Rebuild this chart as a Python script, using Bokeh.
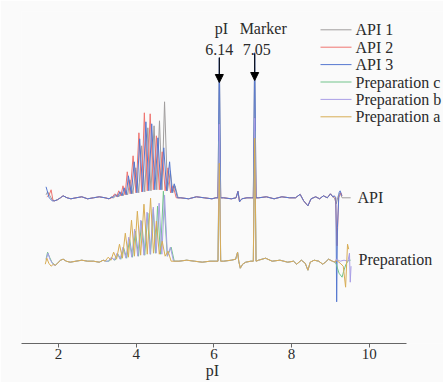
from bokeh.plotting import figure
from bokeh.models import Range1d, Label, Arrow, NormalHead, FixedTicker
from bokeh.embed import file_html
from bokeh.resources import INLINE

# ---------------- data ----------------
SERIES = ["API 1", "API 2", "API 3", "Preparation c", "Preparation b", "Preparation a"]
GROUP = ["API", "API", "API", "Preparation", "Preparation", "Preparation"]
COLORS = ["#a09d9d", "#ef7470", "#5578d0", "#72c48c", "#a99ee6", "#d8ad55"]
GROUP_OFFSET = {"API": 63.4, "Preparation": 0.0}

PI_PEAK = 6.14
MARKER_PEAK = 7.05
PI_PEAK_H = [140, 74, 140, 120, 137, 98]
MARKER_PEAK_H = [145, 80, 145, 130, 143, 123]

API_BASE_X = [1.90, 1.97, 2.05, 2.12, 2.22, 2.32, 2.45, 2.60, 2.75, 2.90, 3.05, 3.20, 3.30, 3.38,
              5.15, 5.35, 5.55, 5.75, 5.95, 6.05, 6.25, 6.45, 6.57, 6.62, 6.66, 6.72, 6.85, 6.97,
              7.15, 7.35, 7.55, 7.75, 7.95, 8.10, 8.22, 8.31, 8.42, 8.50, 8.62, 8.72, 8.82, 8.92,
              9.00, 9.06]
API_BASE_Y = [-3, -2, 0, 2, 0, -1, 0, 1, -1, 0, 1, 0, -1, 1,
              0, -1, 1, 0, -1, 0, 0, -1, 0, 6.5, -4, -1, 0, 0,
              0, 1, -1, 1, 0, 0, 3.5, -3, -8, -1, 1, -1, 2, 0,
              4, 1]

PREP_BASE_X = [1.92, 1.98, 2.05, 2.12, 2.20, 2.30, 2.45, 2.60, 2.75, 2.90, 3.05, 3.15, 3.22,
               5.10, 5.30, 5.50, 5.70, 5.90, 6.05, 6.25, 6.45, 6.56, 6.61, 6.64, 6.68, 6.74, 6.82,
               6.95, 7.15, 7.33, 7.50, 7.70, 7.90, 8.05, 8.13, 8.25, 8.35, 8.42, 8.48, 8.58, 8.70,
               8.80, 8.87, 8.95, 9.05, 9.12]
PREP_BASE_Y = [-4, -2, 1, 2, 0, -1, 0, 1, 0, 0, -1, 1, 0,
               0, 1, 0, -1, 0, 0, 0, 1, 2, 9, 0, -7, -3, -1,
               0, 1, 3, 0, 1, -1, 0, -3, 1, -2, -9, -1, 1, 0,
               -3, -1, 2, 0, -1]

START_X = [[1.68, 1.72, 1.78, 1.84],
           [1.70, 1.76, 1.81, 1.86],
           [1.68, 1.71, 1.76, 1.84],
           [1.68, 1.72, 1.77, 1.83, 1.88],
           [1.68, 1.73, 1.78, 1.84, 1.88],
           [1.66, 1.70, 1.75, 1.81, 1.87]]
START_Y = [[3, 6, 2, -2],
           [1, 3, 8, -3],
           [11, 7, 0, -3],
           [2, 9, 4, -1, -3],
           [1, 8, 2, -2, -4],
           [-3, 3, -2, -5, -3]]

CLUSTER_X = [[3.50, 3.61, 3.72, 3.84, 3.99, 4.14, 4.30, 4.46, 4.60, 4.73, 4.88, 5.00],
             [3.45, 3.55, 3.66, 3.77, 3.92, 4.07, 4.21, 4.36, 4.52, 4.67, 4.82, 4.95],
             [3.47, 3.58, 3.69, 3.80, 3.95, 4.09, 4.25, 4.40, 4.56, 4.71, 4.86, 4.98],
             [3.38, 3.53, 3.68, 3.83, 3.98, 4.14, 4.30, 4.44, 4.55, 4.70, 4.90],
             [3.36, 3.51, 3.66, 3.81, 3.96, 4.12, 4.28, 4.44, 4.59, 4.73, 4.88],
             [3.28, 3.42, 3.57, 3.72, 3.88, 4.03, 4.20, 4.37, 4.52, 4.67, 4.82]]
CLUSTER_H = [[3, 5, 9, 18, 30, 52, 70, 72, 77, 96, 27, 12],
             [4, 7, 12, 26, 42, 65, 85, 84, 62, 46, 30, 12],
             [3, 6, 10, 22, 36, 59, 76, 74, 60, 50, 36, 14],
             [3, 7, 13, 22, 30, 40, 48, 52, 55, 70, 14],
             [4, 8, 14, 24, 32, 41, 49, 54, 58, 66, 14],
             [4, 9, 17, 28, 41, 50, 57, 63, 40, 20, 10]]
API_VALLEYS = [1, 2, 3, 4, 5, 6, 7, 8, 8, 7, 5]
PREP_VALLEYS = [1, 2, 3, 4, 5, 6, 7, 8, 7, 5]

END_X = [[9.10, 9.15, 9.20, 9.25, 9.30, 9.52],
         [9.10, 9.13, 9.17, 9.21, 9.27, 9.30],
         [9.10, 9.14, 9.16, 9.18, 9.22, 9.25, 9.29],
         [9.15, 9.22, 9.30, 9.34, 9.40, 9.47, 9.52],
         [9.15, 9.25, 9.35, 9.45, 9.49, 9.51, 9.53],
         [9.15, 9.25, 9.33, 9.39, 9.44, 9.47]]
END_Y = [[0, -6, 2, 5, 0, 0],
         [1, 0, -48, 0, 5, 2],
         [2, 0, -104, -30, 5, 7, 2],
         [-3, -12, -16, -10, -3, 1, 1],
         [2, 0, 1, 0, 8, -21, -5],
         [1, -2, -5, -26, 17, 12]]

X_TICKS = [2, 4, 6, 8, 10]
X_AXIS_SPAN = (1.048, 10.957)
X_LABEL = "pI"

# ---------------- build traces ----------------
HALF_W = 0.035
PAD = 0.08


def build(i):
    g = GROUP[i]
    bx, by = (API_BASE_X, API_BASE_Y) if g == "API" else (PREP_BASE_X, PREP_BASE_Y)
    valleys = API_VALLEYS if g == "API" else PREP_VALLEYS
    cx, ch = CLUSTER_X[i], CLUSTER_H[i]
    c0, c1 = cx[0] - PAD, cx[-1] + PAD
    s_end = START_X[i][-1]
    e0 = END_X[i][0]
    pts = list(zip(START_X[i], START_Y[i]))
    pts += [(x, y) for x, y in zip(bx, by) if s_end < x < c0]
    pts.append((c0, 0))
    for k in range(len(cx)):
        pts.append((cx[k], ch[k]))
        if k < len(cx) - 1:
            pts.append(((cx[k] + cx[k + 1]) / 2, valleys[k]))
    pts.append((c1, 0))
    pts += [(x, y) for x, y in zip(bx, by)
            if c1 < x < e0 and abs(x - PI_PEAK) > HALF_W and abs(x - MARKER_PEAK) > HALF_W]
    for pk, h in ((PI_PEAK, PI_PEAK_H[i]), (MARKER_PEAK, MARKER_PEAK_H[i])):
        pts += [(pk - HALF_W, 0), (pk, h), (pk + HALF_W, 0)]
    pts += list(zip(END_X[i], END_Y[i]))
    pts.sort(key=lambda t: t[0])
    off = GROUP_OFFSET[g]
    return [p[0] for p in pts], [p[1] + off for p in pts]


# ---------------- figure ----------------
FONT = "Liberation Serif"
BG = "#fafafa"
TXT = "#2b2b2b"

X0, X1 = 1.048, 11.910
Y0, Y1 = -82.3, 249.7
FRAME_LEFT, FRAME_TOP, FRAME_W, FRAME_H = 21, 11, 422, 332


def px_to_x(px):
    return X0 + (px - FRAME_LEFT) * (X1 - X0) / FRAME_W


def px_to_y(py):
    return Y1 - (py - FRAME_TOP) * (Y1 - Y0) / FRAME_H


p = figure(width=443, height=382, output_backend="svg", toolbar_location=None,
           x_range=Range1d(X0, X1), y_range=Range1d(Y0, Y1),
           y_axis_location=None, min_border_left=FRAME_LEFT, min_border_right=0,
           min_border_top=FRAME_TOP, min_border_bottom=382 - FRAME_TOP - FRAME_H)
p.background_fill_color = BG
p.border_fill_color = BG
p.outline_line_color = None
p.xgrid.visible = False
p.ygrid.visible = False

for i in range(len(SERIES)):
    xs, ys = build(i)
    p.line(xs, ys, line_color=COLORS[i], line_width=1)

ax = p.xaxis[0]
ax.ticker = FixedTicker(ticks=X_TICKS)
ax.bounds = X_AXIS_SPAN
ax.major_label_text_font = FONT
ax.major_label_text_font_size = "15px"
ax.major_label_text_color = TXT
ax.major_label_standoff = 1
ax.axis_line_color = "#666666"
ax.major_tick_line_color = "#666666"
ax.major_tick_out = 4
ax.major_tick_in = 0
ax.minor_tick_out = 0
ax.minor_tick_in = 0
# the frame runs on to the right edge (for the texts there); trailing no-break
# spaces move the centred title back under the axis line
ax.axis_label = X_LABEL + "\u00a0" * 10
ax.axis_label_text_font = FONT
ax.axis_label_text_font_size = "16px"
ax.axis_label_text_font_style = "normal"
ax.axis_label_text_color = TXT
ax.axis_label_standoff = 0

# legend (swatch + label per series), laid out in pixels
LEG_SW_X0, LEG_SW_X1, LEG_TXT_X = 320, 351, 355
LEG_ROW0, LEG_PITCH = 29.3, 17.4
for k in range(len(SERIES)):
    yc = px_to_y(LEG_ROW0 + LEG_PITCH * k)
    p.line([px_to_x(LEG_SW_X0), px_to_x(LEG_SW_X1)], [yc, yc], line_color=COLORS[k], line_width=1)
    p.add_layout(Label(x=px_to_x(LEG_TXT_X), y=yc, text=SERIES[k], text_align="left",
                       text_baseline="middle", text_font=FONT, text_font_size="16px",
                       text_color=TXT))

for pk, name, dx_name, dx_val, y0, y1 in ((PI_PEAK, "pI", 2, 0, 57, 82),
                                          (MARKER_PEAK, "Marker", 8.5, 2, 53, 80)):
    p.add_layout(Label(x=pk, y=px_to_y(28.3), text=name, x_offset=dx_name, text_align="center",
                       text_baseline="alphabetic", text_font=FONT, text_font_size="16px",
                       text_color=TXT))
    p.add_layout(Label(x=pk, y=px_to_y(49.3), text=f"{pk:.2f}", x_offset=dx_val, text_align="center",
                       text_baseline="alphabetic", text_font=FONT, text_font_size="16px",
                       text_color=TXT))
    p.add_layout(Arrow(x_start=pk, y_start=px_to_y(y0), x_end=pk, y_end=px_to_y(y1), line_color="black",
                       line_width=1, end=NormalHead(size=8, fill_color="black", line_color="black")))

p.add_layout(Label(x=px_to_x(357), y=GROUP_OFFSET["API"], text="API", text_align="left",
                   text_baseline="middle", text_font=FONT, text_font_size="16px", text_color=TXT))
p.add_layout(Label(x=px_to_x(358), y=GROUP_OFFSET["Preparation"] + 2, text="Preparation", text_align="left",
                   text_baseline="middle", text_font=FONT, text_font_size="16px", text_color=TXT))

open("out.html", "w").write(file_html(p, INLINE))
